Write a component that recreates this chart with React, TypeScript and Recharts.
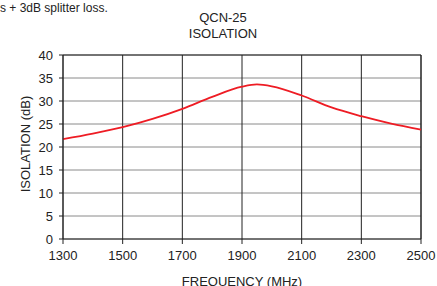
import React from 'react';
import { LineChart, Line, XAxis, YAxis, CartesianGrid, ReferenceLine } from 'recharts';

// frequency (MHz) and isolation (dB)
const frequencies = [1300, 1400, 1500, 1600, 1700, 1800, 1900, 1950, 2000, 2100, 2200, 2300, 2400, 2500];
const isolation = [21.7, 22.9, 24.3, 26.1, 28.3, 30.9, 33.1, 33.6, 33.2, 31.2, 28.6, 26.7, 25.1, 23.8];

const xTicks = [1300, 1500, 1700, 1900, 2100, 2300, 2500];
const yTicks = [0, 5, 10, 15, 20, 25, 30, 35, 40];

const data = frequencies.map((f, i) => ({ freq: f, iso: isolation[i] }));

const font = '"Liberation Sans", Arial, sans-serif';

const YLabel = () => (
    <text x={25} y={144} transform="rotate(-90 25 144)" textAnchor="middle" dominantBaseline="central"
        fontFamily={font} fontSize={13} fill="#222">
        ISOLATION (dB)
    </text>
);

export default function App() {
    return (
        <div style={{ position: 'absolute', left: 0, top: 0, width: 437, height: 286, background: '#fff', fontFamily: font, overflow: 'hidden' }}>
            <div style={{ position: 'absolute', left: 0, top: 0, fontSize: 12, color: '#222', lineHeight: '16px' }}>
                s + 3dB splitter loss.
            </div>
            <div style={{ position: 'absolute', left: 123, width: 200, top: 10, textAlign: 'center', fontSize: 13, color: '#222', lineHeight: '16px' }}>
                QCN-25<br />ISOLATION
            </div>
            <div style={{ position: 'absolute', left: 142, width: 200, top: 274, textAlign: 'center', fontSize: 13, color: '#222', lineHeight: '16px' }}>
                FREQUENCY (MHz)
            </div>
            <LineChart width={437} height={286} data={data} margin={{ top: 55, right: 16, left: 0, bottom: 0 }}>
                <CartesianGrid horizontal={true} vertical={false} stroke="#8a8a8a" strokeWidth={1} />
                <CartesianGrid horizontal={false} vertical={true} stroke="#222" strokeWidth={1} />
                <XAxis
                    dataKey="freq"
                    type="number"
                    domain={[1300, 2500]}
                    ticks={xTicks}
                    interval={0}
                    height={47}
                    tickSize={5}
                    tickMargin={7}
                    stroke="#222"
                    tick={{ fill: '#222', fontSize: 13, fontFamily: font }}
                />
                <YAxis
                    type="number"
                    domain={[0, 40]}
                    ticks={yTicks}
                    interval={0}
                    width={63}
                    tickSize={4}
                    tickMargin={6}
                    stroke="#222"
                    tick={{ fill: '#222', fontSize: 13, fontFamily: font }}
                    label={<YLabel />}
                />
                <ReferenceLine y={40} stroke="#222" />
                <ReferenceLine x={2500} stroke="#222" />
                <Line type="monotone" dataKey="iso" stroke="#ee1c24" strokeWidth={1.8} dot={false} isAnimationActive={false} />
            </LineChart>
        </div>
    );
}
